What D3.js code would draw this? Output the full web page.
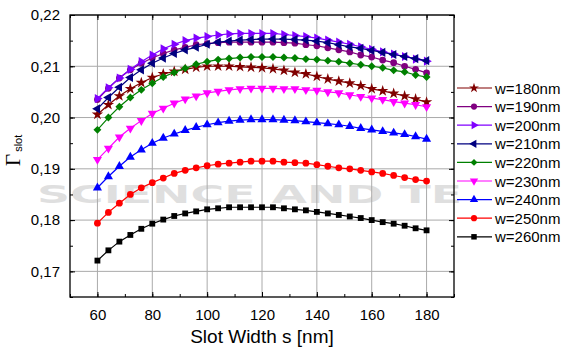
<!DOCTYPE html>
<html><head><meta charset="utf-8">
<script src="https://cdn.jsdelivr.net/npm/d3@7"></script>
<style>body{margin:0;background:#fff}svg{display:block}</style>
</head><body>
<script>
const slotWidths = [60,64,68,72,76,80,84,88,92,96,100,104,108,112,116,120,124,128,132,136,140,144,148,152,156,160,164,168,172,176,180];
const w180 = [0.2006,0.2025,0.2042,0.2056,0.2068,0.2078,0.2085,0.2090,0.2094,0.2098,0.2100,0.2100,0.2100,0.2099,0.2098,0.2097,0.2095,0.2092,0.2088,0.2085,0.2080,0.2075,0.2071,0.2067,0.2062,0.2056,0.2052,0.2047,0.2042,0.2036,0.2030];
const w190 = [0.2035,0.2057,0.2077,0.2093,0.2106,0.2116,0.2125,0.2132,0.2137,0.2142,0.2144,0.2146,0.2147,0.2147,0.2147,0.2147,0.2147,0.2146,0.2145,0.2142,0.2140,0.2136,0.2132,0.2128,0.2122,0.2118,0.2112,0.2107,0.2100,0.2094,0.2087];
const w200 = [0.2037,0.2058,0.2077,0.2094,0.2109,0.2122,0.2134,0.2143,0.2150,0.2155,0.2158,0.2161,0.2163,0.2164,0.2164,0.2164,0.2164,0.2162,0.2160,0.2158,0.2155,0.2151,0.2147,0.2143,0.2138,0.2133,0.2128,0.2124,0.2119,0.2114,0.2110];
const w210 = [0.2017,0.2039,0.2059,0.2078,0.2093,0.2106,0.2116,0.2125,0.2132,0.2137,0.2143,0.2147,0.2149,0.2151,0.2152,0.2153,0.2153,0.2153,0.2152,0.2151,0.2149,0.2146,0.2142,0.2138,0.2135,0.2131,0.2127,0.2123,0.2119,0.2115,0.2111];
const w220 = [0.1976,0.2000,0.2021,0.2039,0.2054,0.2067,0.2079,0.2088,0.2096,0.2104,0.2109,0.2113,0.2115,0.2117,0.2118,0.2118,0.2118,0.2117,0.2116,0.2114,0.2113,0.2111,0.2109,0.2106,0.2103,0.2100,0.2097,0.2092,0.2089,0.2083,0.2079];
const w230 = [0.1918,0.1940,0.1962,0.1979,0.1994,0.2008,0.2018,0.2028,0.2036,0.2042,0.2048,0.2051,0.2054,0.2056,0.2057,0.2057,0.2057,0.2056,0.2056,0.2054,0.2053,0.2050,0.2048,0.2044,0.2041,0.2038,0.2035,0.2031,0.2028,0.2025,0.2021];
const w240 = [0.1863,0.1885,0.1905,0.1923,0.1937,0.1950,0.1960,0.1968,0.1975,0.1981,0.1986,0.1990,0.1993,0.1995,0.1996,0.1996,0.1996,0.1995,0.1994,0.1992,0.1990,0.1988,0.1986,0.1983,0.1979,0.1976,0.1973,0.1970,0.1967,0.1963,0.1958];
const w250 = [0.1794,0.1815,0.1833,0.1850,0.1863,0.1873,0.1882,0.1891,0.1897,0.1902,0.1906,0.1909,0.1911,0.1913,0.1915,0.1915,0.1915,0.1913,0.1912,0.1911,0.1908,0.1905,0.1902,0.1900,0.1897,0.1894,0.1891,0.1887,0.1883,0.1879,0.1876];
const w260 = [0.1721,0.1741,0.1758,0.1771,0.1783,0.1793,0.1801,0.1808,0.1813,0.1817,0.1821,0.1823,0.1825,0.1825,0.1825,0.1825,0.1825,0.1823,0.1821,0.1819,0.1816,0.1813,0.1810,0.1807,0.1804,0.1800,0.1796,0.1793,0.1789,0.1784,0.1780];
const seriesNames = ["w=180nm","w=190nm","w=200nm","w=210nm","w=220nm","w=230nm","w=240nm","w=250nm","w=260nm"];
const seriesColors = ["#800000","#800080","#8000ff","#000080","#008000","#ff00ff","#0000ff","#ff0000","#000000"];
const seriesMarkers = ["star","circle","triRight","triLeft","diamond","triDown","triUp","circle","square"];
const xTicks = [60,80,100,120,140,160,180];
const yTicks = [0.17,0.18,0.19,0.20,0.21,0.22];
const xTitle = "Slot Width s [nm]";

const seriesValues = [w180,w190,w200,w210,w220,w230,w240,w250,w260];
const W = 562, H = 349;
const L = 70, T = 15, R = 454, B = 297;
const svg = d3.select("body").append("svg").attr("width", W).attr("height", H);

// faint watermark (background)
svg.append("text").attr("x", 37).attr("y", 203).attr("fill", "#000").attr("opacity", 0.12)
  .attr("font-family", "DejaVu Sans").attr("font-weight", "bold").attr("font-size", 24)
  .attr("textLength", 425).attr("lengthAdjust", "spacingAndGlyphs").text("SCIENCE AND TE");

const x = d3.scaleLinear().domain([50, 190]).range([L, R]);
const y = d3.scaleLinear().domain([0.165, 0.22]).range([B, T]);

// grid
const grid = svg.append("g").attr("stroke", "#aaa").attr("stroke-width", 1);
xTicks.forEach(t => grid.append("line").attr("x1", x(t)).attr("x2", x(t)).attr("y1", T).attr("y2", B));
yTicks.forEach(t => grid.append("line").attr("x1", L).attr("x2", R).attr("y1", y(t)).attr("y2", y(t)));

// axes
const fmt = d => d3.format(".2f")(d).replace(".", ",");
const xMinor = d3.range(50, 191, 10);
const yMinor = d3.range(0.165, 0.2201, 0.005);
function styleAxis(g){ g.select(".domain").remove(); g.selectAll("text").attr("font-family","Liberation Sans, Arial, sans-serif").attr("font-size",15).attr("fill","#000"); g.selectAll("line").attr("stroke","#000"); }
svg.append("g").attr("transform", `translate(0,${B})`).call(d3.axisBottom(x).tickValues(xMinor).tickSize(-3).tickFormat("")).call(styleAxis);
svg.append("g").attr("transform", `translate(0,${B})`).call(d3.axisBottom(x).tickValues(xTicks).tickSizeInner(-5).tickSizeOuter(0).tickPadding(12)).call(styleAxis);
svg.append("g").attr("transform", `translate(0,${T})`).call(d3.axisTop(x).tickValues(xMinor).tickSize(-3).tickFormat("")).call(styleAxis);
svg.append("g").attr("transform", `translate(0,${T})`).call(d3.axisTop(x).tickValues(xTicks).tickSize(-5).tickFormat("")).call(styleAxis);
svg.append("g").attr("transform", `translate(${L},0)`).call(d3.axisLeft(y).tickValues(yMinor).tickSize(-3).tickFormat("")).call(styleAxis);
svg.append("g").attr("transform", `translate(${L},0)`).call(d3.axisLeft(y).tickValues(yTicks).tickSizeInner(-5).tickSizeOuter(0).tickPadding(10).tickFormat(fmt)).call(styleAxis);
svg.append("g").attr("transform", `translate(${R},0)`).call(d3.axisRight(y).tickValues(yMinor).tickSize(-3).tickFormat("")).call(styleAxis);
svg.append("g").attr("transform", `translate(${R},0)`).call(d3.axisRight(y).tickValues(yTicks).tickSize(-5).tickFormat("")).call(styleAxis);
svg.append("rect").attr("x", L).attr("y", T).attr("width", R - L).attr("height", B - T).attr("fill", "none").attr("stroke", "#000").attr("stroke-width", 1.3);

// titles
svg.append("text").attr("x", (L + R) / 2).attr("y", 343).attr("text-anchor", "middle").attr("font-family", "Liberation Sans, Arial, sans-serif").attr("font-size", 19).text(xTitle);
const yl = svg.append("text").attr("transform", "translate(20,166) rotate(-90)").attr("font-family", "Liberation Serif, Times New Roman, serif").attr("font-size", 21);
yl.append("tspan").text("Γ");
yl.append("tspan").attr("font-family", "Liberation Sans, Arial, sans-serif").attr("font-size", 11).attr("dy", 2).attr("dx", 2).text("slot");

// symbols
function symPath(kind, size){
  const map = {star: d3.symbolStar, circle: d3.symbolCircle, diamond: d3.symbolDiamond2, square: d3.symbolSquare,
    triUp: d3.symbolTriangle, triDown: d3.symbolTriangle, triRight: d3.symbolTriangle, triLeft: d3.symbolTriangle};
  const sz = {star: 40, circle: 36, diamond: 40, square: 34, triUp: 36, triDown: 36, triRight: 36, triLeft: 36}[kind];
  return d3.symbol().type(map[kind]).size(size || sz)();
}
const rot = {triDown: 180, triRight: 90, triLeft: -90};

const line = d3.line().x((d, i) => x(slotWidths[i])).y(d => y(d));
seriesValues.forEach((vals, k) => {
  const g = svg.append("g");
  g.append("path").attr("d", line(vals)).attr("fill", "none").attr("stroke", seriesColors[k]).attr("stroke-width", 1.2);
  g.selectAll("path.m").data(vals).enter().append("path").attr("class", "m")
    .attr("d", symPath(seriesMarkers[k]))
    .attr("transform", (d, i) => `translate(${x(slotWidths[i])},${y(d)}) rotate(${rot[seriesMarkers[k]] || 0})`)
    .attr("fill", seriesColors[k]);
});

// legend
const lg = svg.append("g");
seriesNames.forEach((n, k) => {
  const yy = 88 + k * 18.6;
  lg.append("line").attr("x1", 457).attr("x2", 492).attr("y1", yy).attr("y2", yy).attr("stroke", seriesColors[k]).attr("stroke-width", 1.2);
  lg.append("path").attr("d", symPath(seriesMarkers[k], 30)).attr("transform", `translate(474,${yy}) rotate(${rot[seriesMarkers[k]] || 0})`).attr("fill", seriesColors[k]);
  lg.append("text").attr("x", 495).attr("y", yy + 5.5).attr("font-family", "Liberation Sans, Arial, sans-serif").attr("font-size", 15).text(n);
});
</script>
</body></html>
